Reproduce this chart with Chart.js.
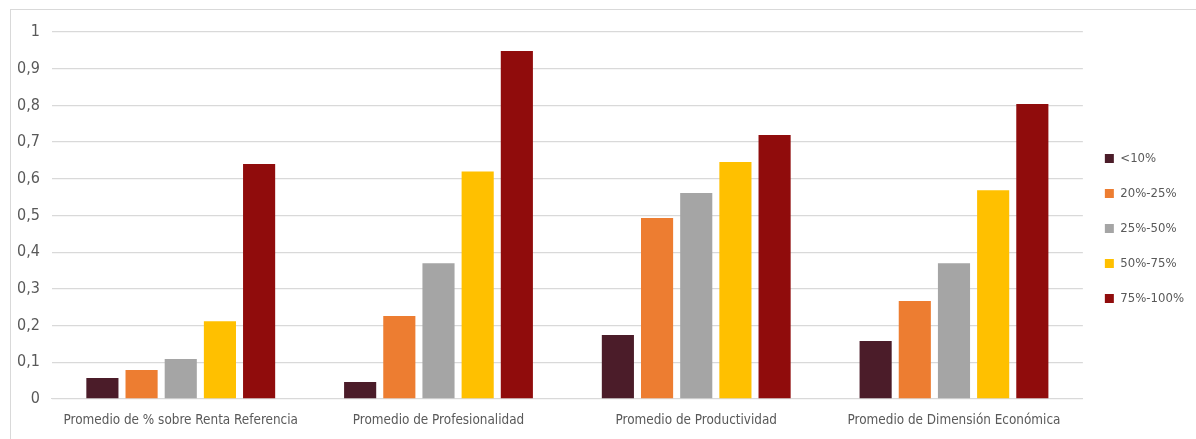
<!DOCTYPE html>
<html>
<head>
<meta charset="utf-8">
<script src="https://cdn.jsdelivr.net/npm/chart.js@4/dist/chart.umd.min.js"></script>
<style>
  html, body { margin: 0; padding: 0; background: #fff; }
  #wrap { position: relative; width: 1196px; height: 439px; }
  #frame { position: absolute; left: 10px; top: 9px; right: 0; bottom: 0;
           border-top: 1px solid #d9d9d9; border-left: 1px solid #d9d9d9; }
  canvas { position: absolute; left: 0; top: 0; }
</style>
</head>
<body>
<div id="wrap">
  <div id="frame"></div>
  <canvas id="myChart" width="1196" height="439"></canvas>
</div>
<script>
// categorías y series
const categories = [
  'Promedio de % sobre Renta Referencia',
  'Promedio de Profesionalidad',
  'Promedio de Productividad',
  'Promedio de Dimensión Económica'
];
const seriesNames = ['<10%', '20%-25%', '25%-50%', '50%-75%', '75%-100%'];
const lt10 = [0.057, 0.046, 0.174, 0.158];
const p20_25 = [0.079, 0.226, 0.493, 0.267];
const p25_50 = [0.109, 0.370, 0.561, 0.370];
const p50_75 = [0.212, 0.620, 0.646, 0.569];
const p75_100 = [0.640, 0.948, 0.719, 0.804];
const colors = ['#4b1c29', '#ed7d31', '#a5a5a5', '#ffc000', '#900c0c'];

const fontFam = '"Liberation Sans Narrow", "DejaVu Sans Condensed", "Liberation Sans", sans-serif';

const chartData = {
  labels: categories,
  datasets: [lt10, p20_25, p25_50, p50_75, p75_100].map((vals, i) => ({
    label: seriesNames[i],
    data: vals,
    backgroundColor: colors[i],
    categoryPercentage: 0.76,
    barPercentage: 0.82
  }))
};

// subir un poco la leyenda
const legendShift = {
  id: 'legendShift',
  afterLayout(chart) {
    chart.legend.top -= 5;
    chart.legend.bottom -= 5;
  }
};

const config = {
  type: 'bar',
  data: chartData,
  plugins: [legendShift],
  options: {
    responsive: false,
    animation: false,
    layout: { padding: { top: 32, left: 5, right: 2, bottom: 4 } },
    plugins: {
      tooltip: { enabled: false },
      legend: {
        position: 'right',
        labels: {
          boxWidth: 9, boxHeight: 9, padding: 22,
          color: '#595959',
          font: { family: fontFam, size: 13 }
        }
      }
    },
    scales: {
      x: {
        grid: { display: false },
        border: { color: '#d9d9d9' },
        ticks: { color: '#595959', padding: 6, font: { family: fontFam, size: 13.4 }, maxRotation: 0 }
      },
      y: {
        min: 0, max: 1,
        border: { display: false },
        grid: { color: '#d9d9d9', lineWidth: 1.3, drawTicks: false },
        ticks: {
          stepSize: 0.1, padding: 12, color: '#595959',
          font: { family: fontFam, size: 16 },
          callback: v => String(Math.round(v * 10) / 10).replace('.', ',')
        }
      }
    }
  }
};

const myChart = new Chart(document.getElementById('myChart'), config);
</script>
</body>
</html>
